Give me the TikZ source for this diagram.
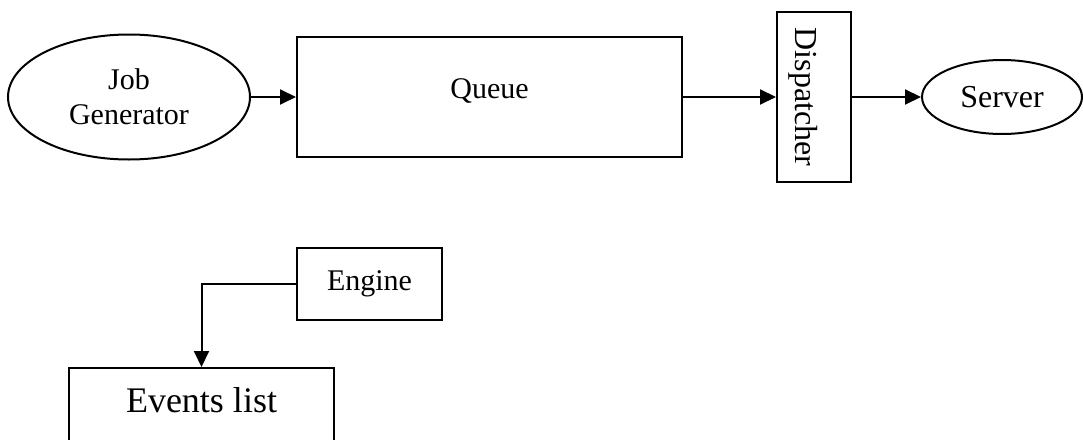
\documentclass[tikz,border=0pt]{standalone}
\usepackage{fontspec}
\setmainfont{Liberation Serif}
\usetikzlibrary{shapes.geometric,arrows.meta}

\begin{document}
\begin{tikzpicture}[x=1pt,y=-1pt,
  every node/.style={line width=2pt,inner sep=0pt},
  box/.style={draw,rectangle},
  oval/.style={draw,ellipse},
  txt/.style={font=\fontsize{30}{35}\selectfont},
  conn/.style={line width=2pt,-{Triangle[length=16pt,width=15pt]}}]
  \useasboundingbox (0,0) rectangle (1083,439);

  % top row: generator -> queue -> dispatcher -> server
  \node[oval,txt,align=center,minimum width=242pt,minimum height=125pt]
    (gen) at (129,97) {Job\\Generator};
  \node[box,txt,minimum width=385pt,minimum height=120pt,
        text height=20pt,text depth=18pt] (queue) at (489.5,97) {Queue};
  \node[box,font=\fontsize{32}{38}\selectfont,rotate=-90,
        minimum width=170pt,minimum height=74pt,
        text height=40pt,text depth=2pt] (disp) at (814,97) {Dispatcher};
  \node[oval,font=\fontsize{32}{38}\selectfont,minimum width=160pt,minimum height=74pt]
    (server) at (1002,97) {Server};

  \draw[conn] (gen) -- (queue);
  \draw[conn] (queue) -- (disp);
  \draw[conn] (disp) -- (server);

  % bottom: engine feeding the events list
  \node[box,txt,minimum width=145pt,minimum height=72pt] (engine) at (369.5,284) {Engine};
  \node[box,font=\fontsize{36}{42}\selectfont,minimum width=265pt,minimum height=74pt,
        text height=24pt,text depth=10pt] (events) at (201.5,405) {Events list};

  \draw[conn] (engine.west) -| (events.north);
\end{tikzpicture}
\end{document}
